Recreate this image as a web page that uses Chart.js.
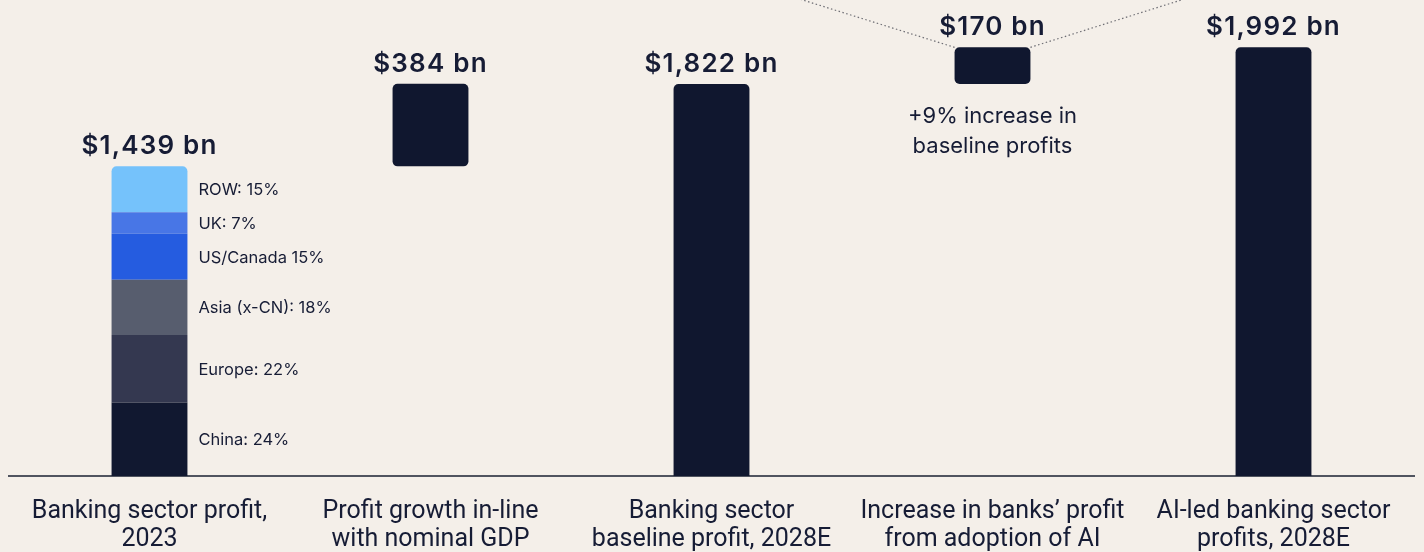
<!DOCTYPE html>
<html>
<head>
<meta charset="utf-8">
<script src="https://cdn.jsdelivr.net/npm/chart.js@4.4.1/dist/chart.umd.min.js"></script>
<style>
  html, body { margin: 0; padding: 0; background: #f4efe9; }
  #wrap { width: 1424px; height: 552px; position: relative; }
</style>
</head>
<body>
<div id="wrap"><canvas id="chart"></canvas></div>
<script>
// --- data ---
const categories = [
    ['Banking sector profit,', '2023'],
    ['Profit growth in-line', 'with nominal GDP'],
    ['Banking sector', 'baseline profit, 2028E'],
    ['Increase in banks\u2019 profit', 'from adoption of AI'],
    ['AI-led banking sector', 'profits, 2028E']
];
const stepValues = [1439, 384, 1822, 170, 1992];   // $ bn
const stepTypes = ['total', 'delta', 'total', 'delta', 'total'];

const regionLabels = ['China: 24%', 'Europe: 22%', 'Asia (x-CN): 18%', 'US/Canada 15%', 'UK: 7%', 'ROW: 15%'];
const regionShares = [24, 22, 18, 15, 7, 15];       // % of 2023 profit

const increaseNote = ['+9% increase in', 'baseline profits'];

// --- styles ---
const navy = '#10172f';
const textColor = '#161c35';
const regionColors = ['#111830', '#343850', '#575d6e', '#255ce0', '#4876e6', '#75c2fb'];

// floating ranges for the waterfall
let running = 0;
const ranges = stepValues.map((v, i) => {
    if (stepTypes[i] === 'total') { running = v; return [0, v]; }
    const r = [running, running + v];
    running += v;
    return r;
});

const shareSum = regionShares.reduce((a, b) => a + b, 0);
const regionDatasets = regionShares.map((s, i) => ({
    label: regionLabels[i],
    data: [stepValues[0] * s / shareSum, null, null, null, null],
    backgroundColor: regionColors[i],
    borderWidth: 0,
    borderRadius: i === regionShares.length - 1 ? { topLeft: 5, topRight: 5 } : 0,
    borderSkipped: false
}));

const mainDataset = {
    label: 'Profit',
    data: ranges.map((r, i) => i === 0 ? null : r),
    backgroundColor: navy,
    borderWidth: 0,
    borderRadius: 5,
    borderSkipped: (c) => (c.raw && c.raw[0] === 0) ? 'start' : false
};

const labelPlugin = {
    id: 'waterfallLabels',
    afterDatasetsDraw(chart) {
        const ctx = chart.ctx;
        const mainMeta = chart.getDatasetMeta(regionShares.length);
        const topRegion = chart.getDatasetMeta(regionShares.length - 1).data[0];
        ctx.save();

        // dotted call-out lines from the AI increase bar
        const ai = mainMeta.data[3];
        const half = ai.width / 2;
        ctx.strokeStyle = '#6e6e74';
        ctx.lineWidth = 1.2;
        ctx.setLineDash([1.5, 2.5]);
        ctx.beginPath();
        ctx.moveTo(ai.x - half, ai.y);
        ctx.lineTo(ai.x - half - 138 * 3, ai.y - 43 * 3);
        ctx.moveTo(ai.x + half, ai.y);
        ctx.lineTo(ai.x + half + 137 * 3, ai.y - 43 * 3);
        ctx.stroke();
        ctx.setLineDash([]);

        // value labels
        ctx.fillStyle = textColor;
        ctx.textAlign = 'center';
        ctx.textBaseline = 'alphabetic';
        ctx.font = '600 26px Inter';
        ctx.letterSpacing = '1.2px';
        stepValues.forEach((v, i) => {
            const el = i === 0 ? topRegion : mainMeta.data[i];
            ctx.fillText('$' + v.toLocaleString('en-US') + ' bn', el.x, el.y - 12);
        });
        ctx.letterSpacing = '0px';

        // region labels beside the first bar
        ctx.font = '16.5px Inter';
        ctx.textAlign = 'left';
        ctx.textBaseline = 'middle';
        regionLabels.forEach((t, i) => {
            const el = chart.getDatasetMeta(i).data[0];
            ctx.fillText(t, el.x + el.width / 2 + 11, (el.y + el.base) / 2 + 1);
        });

        // note under the AI bar
        ctx.font = '22px Inter';
        ctx.textAlign = 'center';
        increaseNote.forEach((t, k) => {
            ctx.fillText(t, ai.x, ai.base + 32 + k * 30);
        });
        ctx.restore();
    }
};

new Chart(document.getElementById('chart'), {
    type: 'bar',
    data: {
        labels: categories,
        datasets: [...regionDatasets, mainDataset]
    },
    options: {
        responsive: true,
        maintainAspectRatio: false,
        animation: false,
        layout: { padding: { left: 9, right: 10, top: 0, bottom: 0 } },
        barPercentage: 0.27,
        categoryPercentage: 1,
        plugins: {
            legend: { display: false },
            tooltip: { enabled: false }
        },
        scales: {
            x: {
                stacked: true,
                grid: { display: false, drawTicks: false },
                border: { display: true, color: '#50545f', width: 2 },
                ticks: {
                    color: textColor,
                    padding: 22,
                    font: { family: 'Roboto', size: 25, lineHeight: 1.1 }
                },
                afterFit: (scale) => { scale.height = 76; }
            },
            y: {
                stacked: true,
                display: false,
                min: 0,
                max: 2212
            }
        }
    },
    plugins: [labelPlugin]
});
</script>
</body>
</html>
